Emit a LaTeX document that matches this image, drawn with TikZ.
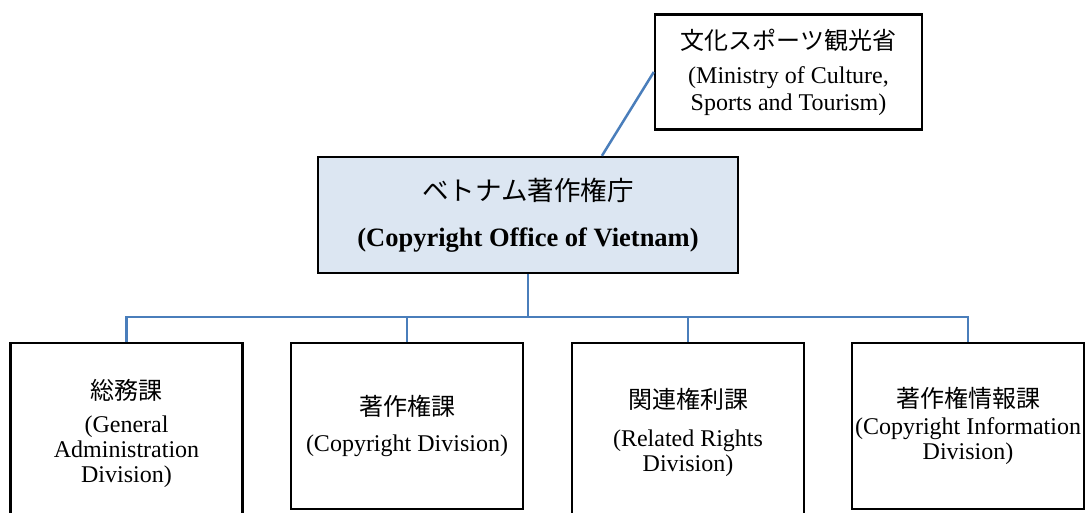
\documentclass[tikz,border=0pt]{standalone}
\usepackage{fontspec}
\setmainfont{Liberation Serif}
\newfontfamily\jpfont{Noto Sans CJK JP}
\usetikzlibrary{positioning,calc}
\definecolor{linkblue}{HTML}{4A7EBB}
\definecolor{headfill}{HTML}{DCE6F2}

\begin{document}
\begin{tikzpicture}[x=1pt,y=-1pt,
    font=\fontsize{24}{25}\selectfont,
    box/.style={draw=black,line width=2.4pt,align=center,inner sep=2pt},
    divbox/.style={box,minimum width=232pt,anchor=north},
    link/.style={draw=linkblue,line width=2.5pt}]
  \useasboundingbox (0,0) rectangle (1086,513);
  % ministry and office
  \node[box,minimum width=267pt,minimum height=115pt,
        font=\fontsize{24}{26.5}\selectfont] (moc) at (788.5,72) {
    {\jpfont 文化スポーツ観光省}\\[8pt]
    (Ministry of Culture,\\
    Sports and Tourism)
  };
  \node[box,fill=headfill,minimum width=420pt,minimum height=116pt,
        font=\fontsize{26.5}{30}\selectfont] (cov) at (528,215) {
    {\jpfont ベトナム著作権庁}\\[16pt]
    \textbf{(Copyright Office of Vietnam)}
  };
  % divisions
  \node[divbox,minimum height=180pt] (gad) at (126.5,342) {
    {\jpfont 総務課}\\[8pt]
    (General\\
    Administration\\
    Division)
  };
  \node[divbox,minimum height=166pt] (cpd) at (407,342) {
    {\jpfont 著作権課}\\[11pt]
    (Copyright Division)
  };
  \node[divbox,minimum height=178pt] (rrd) at (688,342) {
    {\jpfont 関連権利課}\\[13pt]
    (Related Rights\\
    Division)
  };
  \node[divbox,minimum height=166pt] (cid) at (968,342) {
    {\jpfont 著作権情報課}\\[2pt]
    (Copyright Information\\
    Division)
  };
  % connectors
  \coordinate (bus) at (528,317);
  \draw[link] ($(cov.north)!0.35!(cov.north east)$) -- (moc.west);
  \draw[link] (cov.south) -- (bus);
  \draw[link] (gad.north) |- (bus) -| (cid.north);
  \draw[link] (cpd.north) -- (cpd.north |- bus);
  \draw[link] (rrd.north) -- (rrd.north |- bus);
\end{tikzpicture}
\end{document}
